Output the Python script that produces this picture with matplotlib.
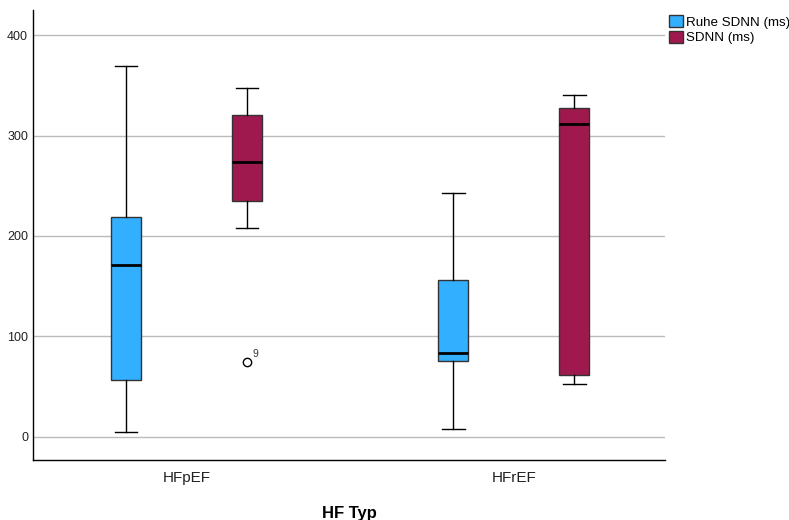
import matplotlib.pyplot as plt
from matplotlib.patches import Patch
import numpy as np

plt.rcParams['font.family'] = ['Liberation Sans', 'DejaVu Sans']

groups = ['HFpEF', 'HFrEF']
series = ['Ruhe SDNN (ms)', 'SDNN (ms)']
colors = ['#33afff', '#a0194e']

# box stats per series, one value per group
whislo = {'Ruhe SDNN (ms)': [5, 8], 'SDNN (ms)': [208, 53]}
q1 = {'Ruhe SDNN (ms)': [57, 76], 'SDNN (ms)': [235, 62]}
med = {'Ruhe SDNN (ms)': [171, 84], 'SDNN (ms)': [274, 311]}
q3 = {'Ruhe SDNN (ms)': [219, 156], 'SDNN (ms)': [320, 327]}
whishi = {'Ruhe SDNN (ms)': [369, 243], 'SDNN (ms)': [347, 340]}
fliers = {'Ruhe SDNN (ms)': [[], []], 'SDNN (ms)': [[75], []]}
flier_labels = {'SDNN (ms)': [['9'], []], 'Ruhe SDNN (ms)': [[], []]}

fig = plt.figure(figsize=(7.89, 5.20), dpi=100)
ax = fig.add_axes([0.0418, 0.1154, 0.801, 0.8654])

offset = 0.185
width = 0.092
x = np.arange(len(groups))

handles = []
for s, (name, col) in enumerate(zip(series, colors)):
    stats = []
    for g in range(len(groups)):
        stats.append(dict(whislo=whislo[name][g], q1=q1[name][g], med=med[name][g],
                          q3=q3[name][g], whishi=whishi[name][g], fliers=fliers[name][g]))
    pos = x + (s - 0.5) * 2 * offset
    ax.bxp(stats, positions=pos, widths=width, patch_artist=True, manage_ticks=False,
           boxprops=dict(facecolor=col, edgecolor='#333333', linewidth=1),
           medianprops=dict(color='black', linewidth=2),
           whiskerprops=dict(color='black', linewidth=1),
           capprops=dict(color='black', linewidth=1),
           capwidths=width * 0.75,
           flierprops=dict(marker='o', markerfacecolor='none', markeredgecolor='black',
                           markersize=6, markeredgewidth=1))
    for g in range(len(groups)):
        for v, lab in zip(fliers[name][g], flier_labels[name][g]):
            ax.annotate(lab, (pos[g], v), xytext=(4, 3), textcoords='offset points',
                        fontsize=7.5, color='#333333')
    handles.append(Patch(facecolor=col, edgecolor='#333333', label=name))

ax.set_xlim(-0.469, 1.462)
ax.set_ylim(-23, 425)
ax.set_yticks([0, 100, 200, 300, 400])
ax.set_xticks(x)
ax.set_xticklabels(groups, fontsize=11, color='#222222')
ax.tick_params(axis='y', length=0, labelsize=9, pad=3.5, labelcolor='#222222')
ax.tick_params(axis='x', length=0, pad=8)
ax.yaxis.grid(True, color='#bbbbbb', linewidth=1)
ax.set_axisbelow(True)
for sp in ['top', 'right']:
    ax.spines[sp].set_visible(False)
for sp in ['left', 'bottom']:
    ax.spines[sp].set_color('black')
    ax.spines[sp].set_linewidth(1)
ax.set_xlabel('HF Typ', fontsize=12, fontweight='bold', labelpad=15)

ax.legend(handles=handles, loc='upper left', bbox_to_anchor=(1.002, 0.995), frameon=False,
          fontsize=9.6, handlelength=1.05, handleheight=1.05, handletextpad=0.2,
          labelspacing=0.15, borderaxespad=0.0, borderpad=0.2)

fig.savefig('out.png', dpi=100)
